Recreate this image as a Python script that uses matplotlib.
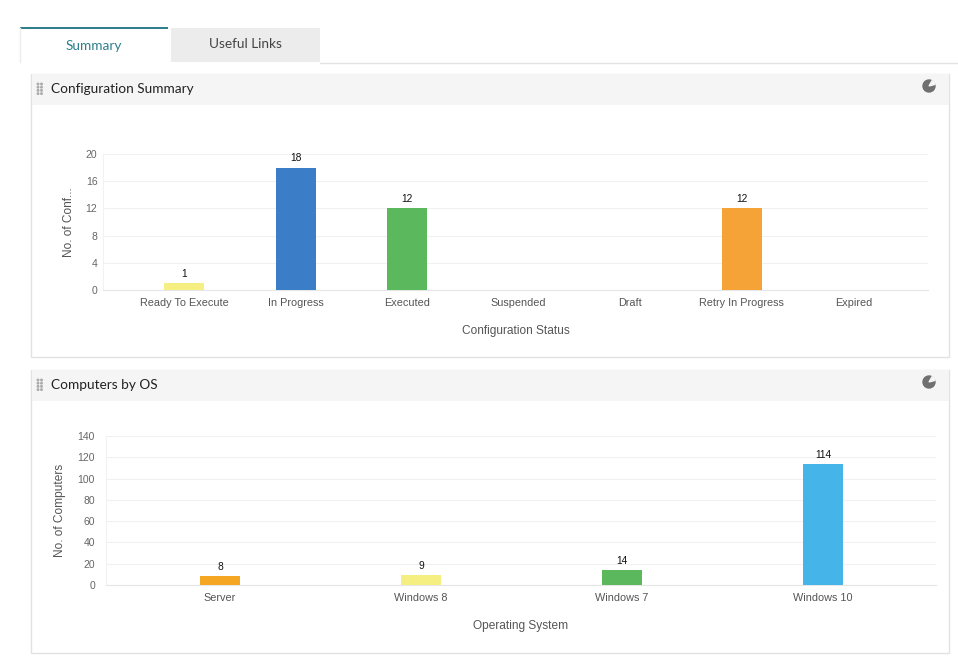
import matplotlib
matplotlib.use("Agg")
import matplotlib.pyplot as plt
from matplotlib.patches import Rectangle, Circle, Wedge

# chart data
config_status = ["Ready To Execute", "In Progress", "Executed", "Suspended",
                 "Draft", "Retry In Progress", "Expired"]
config_counts = [1, 18, 12, 0, 0, 12, 0]
config_colors = ["#f5ee80", "#3b7dc6", "#5cb85c", "#9b9b9b", "#9b9b9b", "#f5a236", "#9b9b9b"]
config_ticks = [0, 4, 8, 12, 16, 20]

os_names = ["Server", "Windows 8", "Windows 7", "Windows 10"]
os_counts = [8, 9, 14, 114]
os_colors = ["#f5a623", "#f5ee80", "#5cb85c", "#45b5e9"]
os_ticks = [0, 20, 40, 60, 80, 100, 120, 140]

W, H = 958, 656
fig = plt.figure(figsize=(W / 100, H / 100), dpi=100)
fig.patch.set_facecolor("white")

# background layer in pixel coordinates
bg = fig.add_axes([0, 0, 1, 1])
bg.set_xlim(0, W)
bg.set_ylim(H, 0)
bg.axis("off")

# tabs
bg.plot([320, W], [62.5, 62.5], color="#e3e3e3", lw=1)
bg.add_patch(Rectangle((171, 28), 149, 34, facecolor="#ececec", edgecolor="none"))
bg.plot([20.5, 20.5], [28, 62], color="#ececec", lw=1)
bg.add_patch(Rectangle((20, 27), 148, 2.2, facecolor="#2f7f8d", edgecolor="none"))
bg.text(94, 45.5, "Summary", fontsize=9.8, family="Lato", color="#2f7f8d", ha="center", va="center")
bg.text(245, 44.5, "Useful Links", fontsize=9.8, family="Lato", color="#444444", ha="center", va="center")


def panel(top, bottom, title):
    bg.add_patch(Rectangle((31.5, top + 0.5), 918, bottom - top, facecolor="white",
                           edgecolor="#e2e2e2", lw=1))
    bg.add_patch(Rectangle((32, top + 1), 917, 31, facecolor="#f5f5f5", edgecolor="none"))
    # drag handle dots
    for dx in (38, 41.5):
        for dy in range(4):
            bg.add_patch(Circle((dx, top + 11 + dy * 3.2), 0.75, color="#aaaaaa"))
    bg.text(51, top + 16, title, fontsize=9.8, family="Lato", color="#222222", ha="left", va="center")
    # chart type icon
    cx, cy = 929, top + 13
    bg.add_patch(Circle((cx, cy), 6, color="#707070"))
    bg.add_patch(Wedge((cx, cy), 6.3, 300, 345, color="#f5f5f5"))


panel(73, 356, "Configuration Summary")
panel(369, 652, "Computers by OS")


def bar_chart(rect_px, names, values, colors, ticks, xlim, width, xlabel, ylabel, ylab_x, tick_pad):
    left, top, right, bottom = rect_px
    ax = fig.add_axes([left / W, 1 - bottom / H, (right - left) / W, (bottom - top) / H])
    ax.patch.set_alpha(0)
    x = range(len(names))
    bars = ax.bar(x, values, width=width, color=colors, zorder=3)
    for b, v in zip(bars, values):
        if v > 0:
            ax.annotate(str(v), (b.get_x() + b.get_width() / 2, v), xytext=(0, 3),
                        textcoords="offset points", ha="center", va="bottom",
                        fontsize=7.4, family="Liberation Sans", color="#111111")
    ax.set_xlim(*xlim)
    ax.set_ylim(ticks[0], ticks[-1])
    ax.set_yticks(ticks)
    ax.set_xticks(list(x))
    ax.set_xticklabels(names, fontsize=7.8, family="Liberation Sans", color="#555555")
    for lab in ax.get_yticklabels():
        lab.set_fontsize(7.5)
        lab.set_family("Liberation Sans")
        lab.set_color("#666666")
    ax.tick_params(axis="both", length=0)
    ax.tick_params(axis="x", pad=5.5)
    ax.tick_params(axis="y", pad=tick_pad)
    ax.grid(axis="y", color="#f0f0f0", lw=0.8, zorder=0)
    for s in ("top", "right"):
        ax.spines[s].set_visible(False)
    ax.spines["bottom"].set_color("#e6e6e6")
    ax.spines["left"].set_color("#f2f2f2")
    ax.set_xlabel(xlabel, fontsize=8.6, family="Liberation Sans", color="#555555", labelpad=12.5)
    ax.set_ylabel(ylabel, fontsize=8.6, family="Liberation Sans", color="#555555")
    ax.yaxis.set_label_coords((ylab_x - left) / (right - left), 0.5)
    return ax


bar_chart((103, 154, 928, 290), config_status, config_counts, config_colors, config_ticks,
          (-0.727, 6.67), 0.36, "Configuration Status", "No. of Conf...", 75, 4)
bar_chart((106, 436, 936, 585), os_names, os_counts, os_colors, os_ticks,
          (-0.567, 3.562), 0.2, "Operating System", "No. of Computers", 66, 8)

fig.savefig("out.png", dpi=100)
